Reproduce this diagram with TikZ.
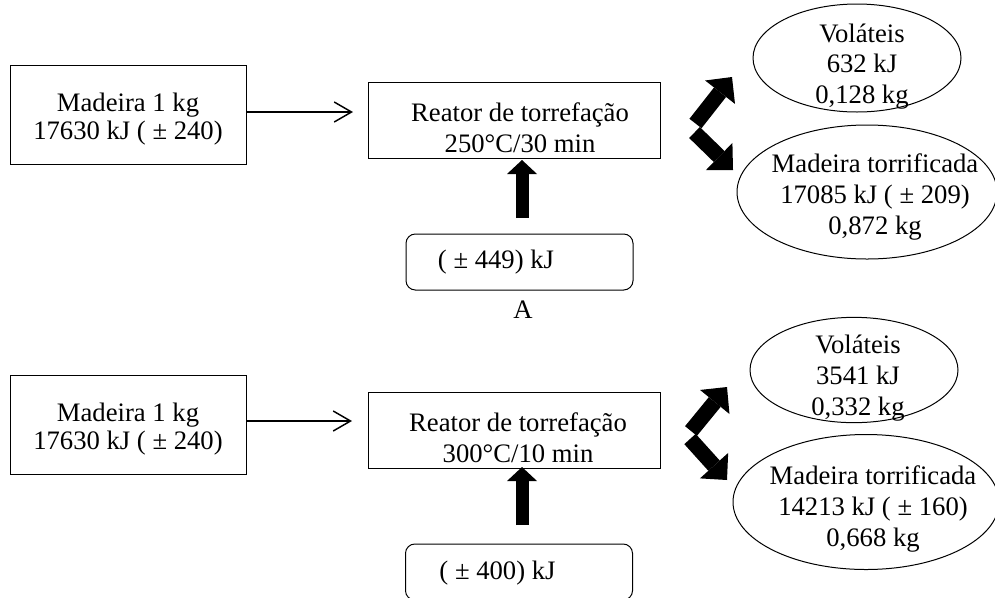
\documentclass[tikz,border=0pt]{standalone}
\usepackage{fontspec}
\setmainfont{Liberation Serif}
\usetikzlibrary{shapes.geometric,arrows.meta}
\begin{document}
\begin{tikzpicture}[x=0.75pt,y=-0.75pt,
  box/.style={draw, line width=0.75pt, rectangle, inner sep=0pt},
  rbox/.style={draw, line width=0.75pt, rectangle, rounded corners=7pt, inner sep=0pt},
  ell/.style={draw, line width=0.75pt, ellipse, inner sep=0pt},
  lbl/.style={align=center, inner sep=0pt, font=\fontsize{20}{23}\selectfont},
  lblw/.style={lbl, font=\fontsize{20}{21}\selectfont},
  feedarrow/.style={line width=1.1pt, -{Straight Barb[length=13pt,width=15pt]}},
  heatarrow/.style={line width=9.75pt, -{Triangle[length=10.5pt,width=22.5pt,line width=0pt]}},
  splitarrow/.style={line width=11.5pt, -{Triangle[length=14.5pt,width=28.5pt,line width=0pt]}},
]
\useasboundingbox (0,0) rectangle (995,597);

% ---------- 250 C / 30 min ----------
\node[box, minimum width=177pt, minimum height=74.25pt] (wood1) at (128,114.5) {};
\node[lblw] (wood1t) at (128,119) {Madeira 1 kg\\17630 kJ ( ± 240)};

\node[box, minimum width=219pt, minimum height=57pt] (reac1) at (514,120) {};
\node[lbl] (reac1t) at (520,127.5) {Reator de torrefação\\250°C/30 min};

\node[rbox, minimum width=170.25pt, minimum height=42pt] (heat1) at (519.5,262) {};
\node[lbl] (heat1t) at (496,262) {( ± 449) kJ};

\node[lbl] (capA) at (523,310) {A};

\node[ell, minimum width=156pt, minimum height=81pt] (vol1) at (857,58) {};
\node[lbl] (vol1t) at (862,66.5) {Voláteis\\632 kJ\\0,128 kg};

\node[ell, minimum width=195pt, minimum height=100.5pt] (tor1) at (867,192) {};
\node[lbl] (tor1t) at (875,197) {Madeira torrificada\\17085 kJ ( ± 209)\\0,872 kg};

\coordinate (in1) at (353,112);
\draw[feedarrow] (wood1.east |- in1) -- (in1);

\coordinate (q1a) at (522,218);
\coordinate (q1b) at (522,160);
\draw[heatarrow] (q1a) -- (q1b);

\coordinate (u1a) at (695.5,123.5);
\coordinate (u1b) at (732,77);
\draw[splitarrow] (u1a) -- (u1b);
\coordinate (d1a) at (694.5,132.5);
\coordinate (d1b) at (733,170);
\draw[splitarrow] (d1a) -- (d1b);

% ---------- 300 C / 10 min ----------
\node[box, minimum width=177pt, minimum height=74.25pt] (wood2) at (128,424.5) {};
\node[lblw] (wood2t) at (128,429) {Madeira 1 kg\\17630 kJ ( ± 240)};

\node[box, minimum width=219pt, minimum height=57pt] (reac2) at (514,430) {};
\node[lbl] (reac2t) at (518,438) {Reator de torrefação\\300°C/10 min};

\node[rbox, minimum width=170.25pt, minimum height=42pt] (heat2) at (519,572) {};
\node[lbl] (heat2t) at (497.5,573) {( ± 400) kJ};

\node[ell, minimum width=156pt, minimum height=79pt] (vol2) at (854,370) {};
\node[lbl] (vol2t) at (858,378) {Voláteis\\3541 kJ\\0,332 kg};

\node[ell, minimum width=199.5pt, minimum height=101.25pt] (tor2) at (866,502) {};
\node[lbl] (tor2t) at (873,509) {Madeira torrificada\\14213 kJ ( ± 160)\\0,668 kg};

\coordinate (in2) at (352,421);
\draw[feedarrow] (wood2.east |- in2) -- (in2);

\coordinate (q2a) at (522,525);
\coordinate (q2b) at (522,467);
\draw[heatarrow] (q2a) -- (q2b);

\coordinate (u2a) at (691,431);
\coordinate (u2b) at (727,387);
\draw[splitarrow] (u2a) -- (u2b);
\coordinate (d2a) at (690,439);
\coordinate (d2b) at (727,480);
\draw[splitarrow] (d2a) -- (d2b);
\end{tikzpicture}
\end{document}
